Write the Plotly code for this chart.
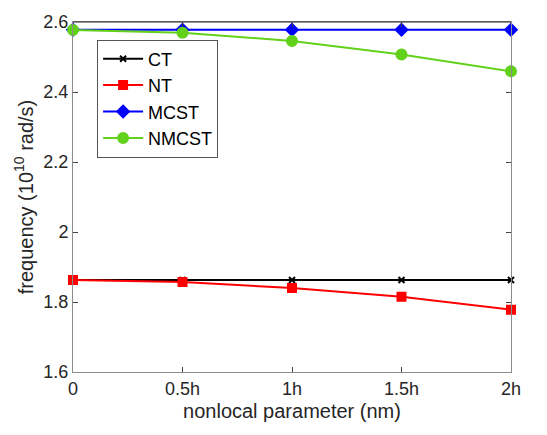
import plotly.graph_objects as go

x_vals = [0, 0.5, 1, 1.5, 2]
x_labels = ["0", "0.5h", "1h", "1.5h", "2h"]
ct = [1.863, 1.863, 1.863, 1.863, 1.863]
nt = [1.863, 1.857, 1.840, 1.815, 1.778]
mcst = [2.578, 2.578, 2.578, 2.578, 2.578]
nmcst = [2.577, 2.569, 2.546, 2.507, 2.459]

series = [
    ("CT", ct, "black", "x-thin", 6),
    ("NT", nt, "red", "square", 8),
    ("MCST", mcst, "blue", "diamond", 9),
    ("NMCST", nmcst, "#62d11a", "circle", 10),
]

FONT = "Liberation Sans, Arial, sans-serif"

fig = go.Figure()
for name, ys, col, sym, sz in series:
    fig.add_trace(go.Scatter(
        x=x_vals, y=ys, name=name, mode="lines+markers",
        line=dict(color=col, width=2),
        marker=dict(color=col, symbol=sym, size=sz,
                    line=dict(color=col, width=2)),
        cliponaxis=False,
    ))

axis_common = dict(
    showgrid=False, zeroline=False, showline=True, mirror="ticks",
    linecolor="#8c8c8c", linewidth=1, ticks="inside", ticklen=5,
    tickcolor="#444", tickfont=dict(family=FONT, size=18, color="#262626"),
)

fig.update_layout(
    width=547, height=435,
    margin=dict(l=73, r=36, t=18, b=63),
    paper_bgcolor="white", plot_bgcolor="white",
    font=dict(family=FONT, size=18, color="#262626"),
    xaxis=dict(range=[0, 2], tickvals=x_vals, ticktext=x_labels,
               title=dict(text="nonlocal parameter (nm)", standoff=6,
                          font=dict(family=FONT, size=20, color="#262626")),
               **axis_common),
    yaxis=dict(range=[1.6, 2.6], tickvals=[1.6, 1.8, 2.0, 2.2, 2.4, 2.6],
               ticktext=["1.6", "1.8", "2", "2.2", "2.4", "2.6"],
               title=dict(text="frequency (10<sup>10</sup> rad/s)", standoff=4,
                          font=dict(family=FONT, size=20, color="#262626")),
               **axis_common),
    legend=dict(x=0.055, y=0.95, xanchor="left", yanchor="top",
                bgcolor="white", bordercolor="#555", borderwidth=1,
                font=dict(family=FONT, size=18, color="black"), tracegroupgap=0,
                itemwidth=40),
    showlegend=True,
)
fig.add_shape(type="line", xref="paper", yref="paper", x0=0, x1=1, y0=1, y1=1,
              line=dict(color="#262626", width=1))

fig.write_html("out.html")
